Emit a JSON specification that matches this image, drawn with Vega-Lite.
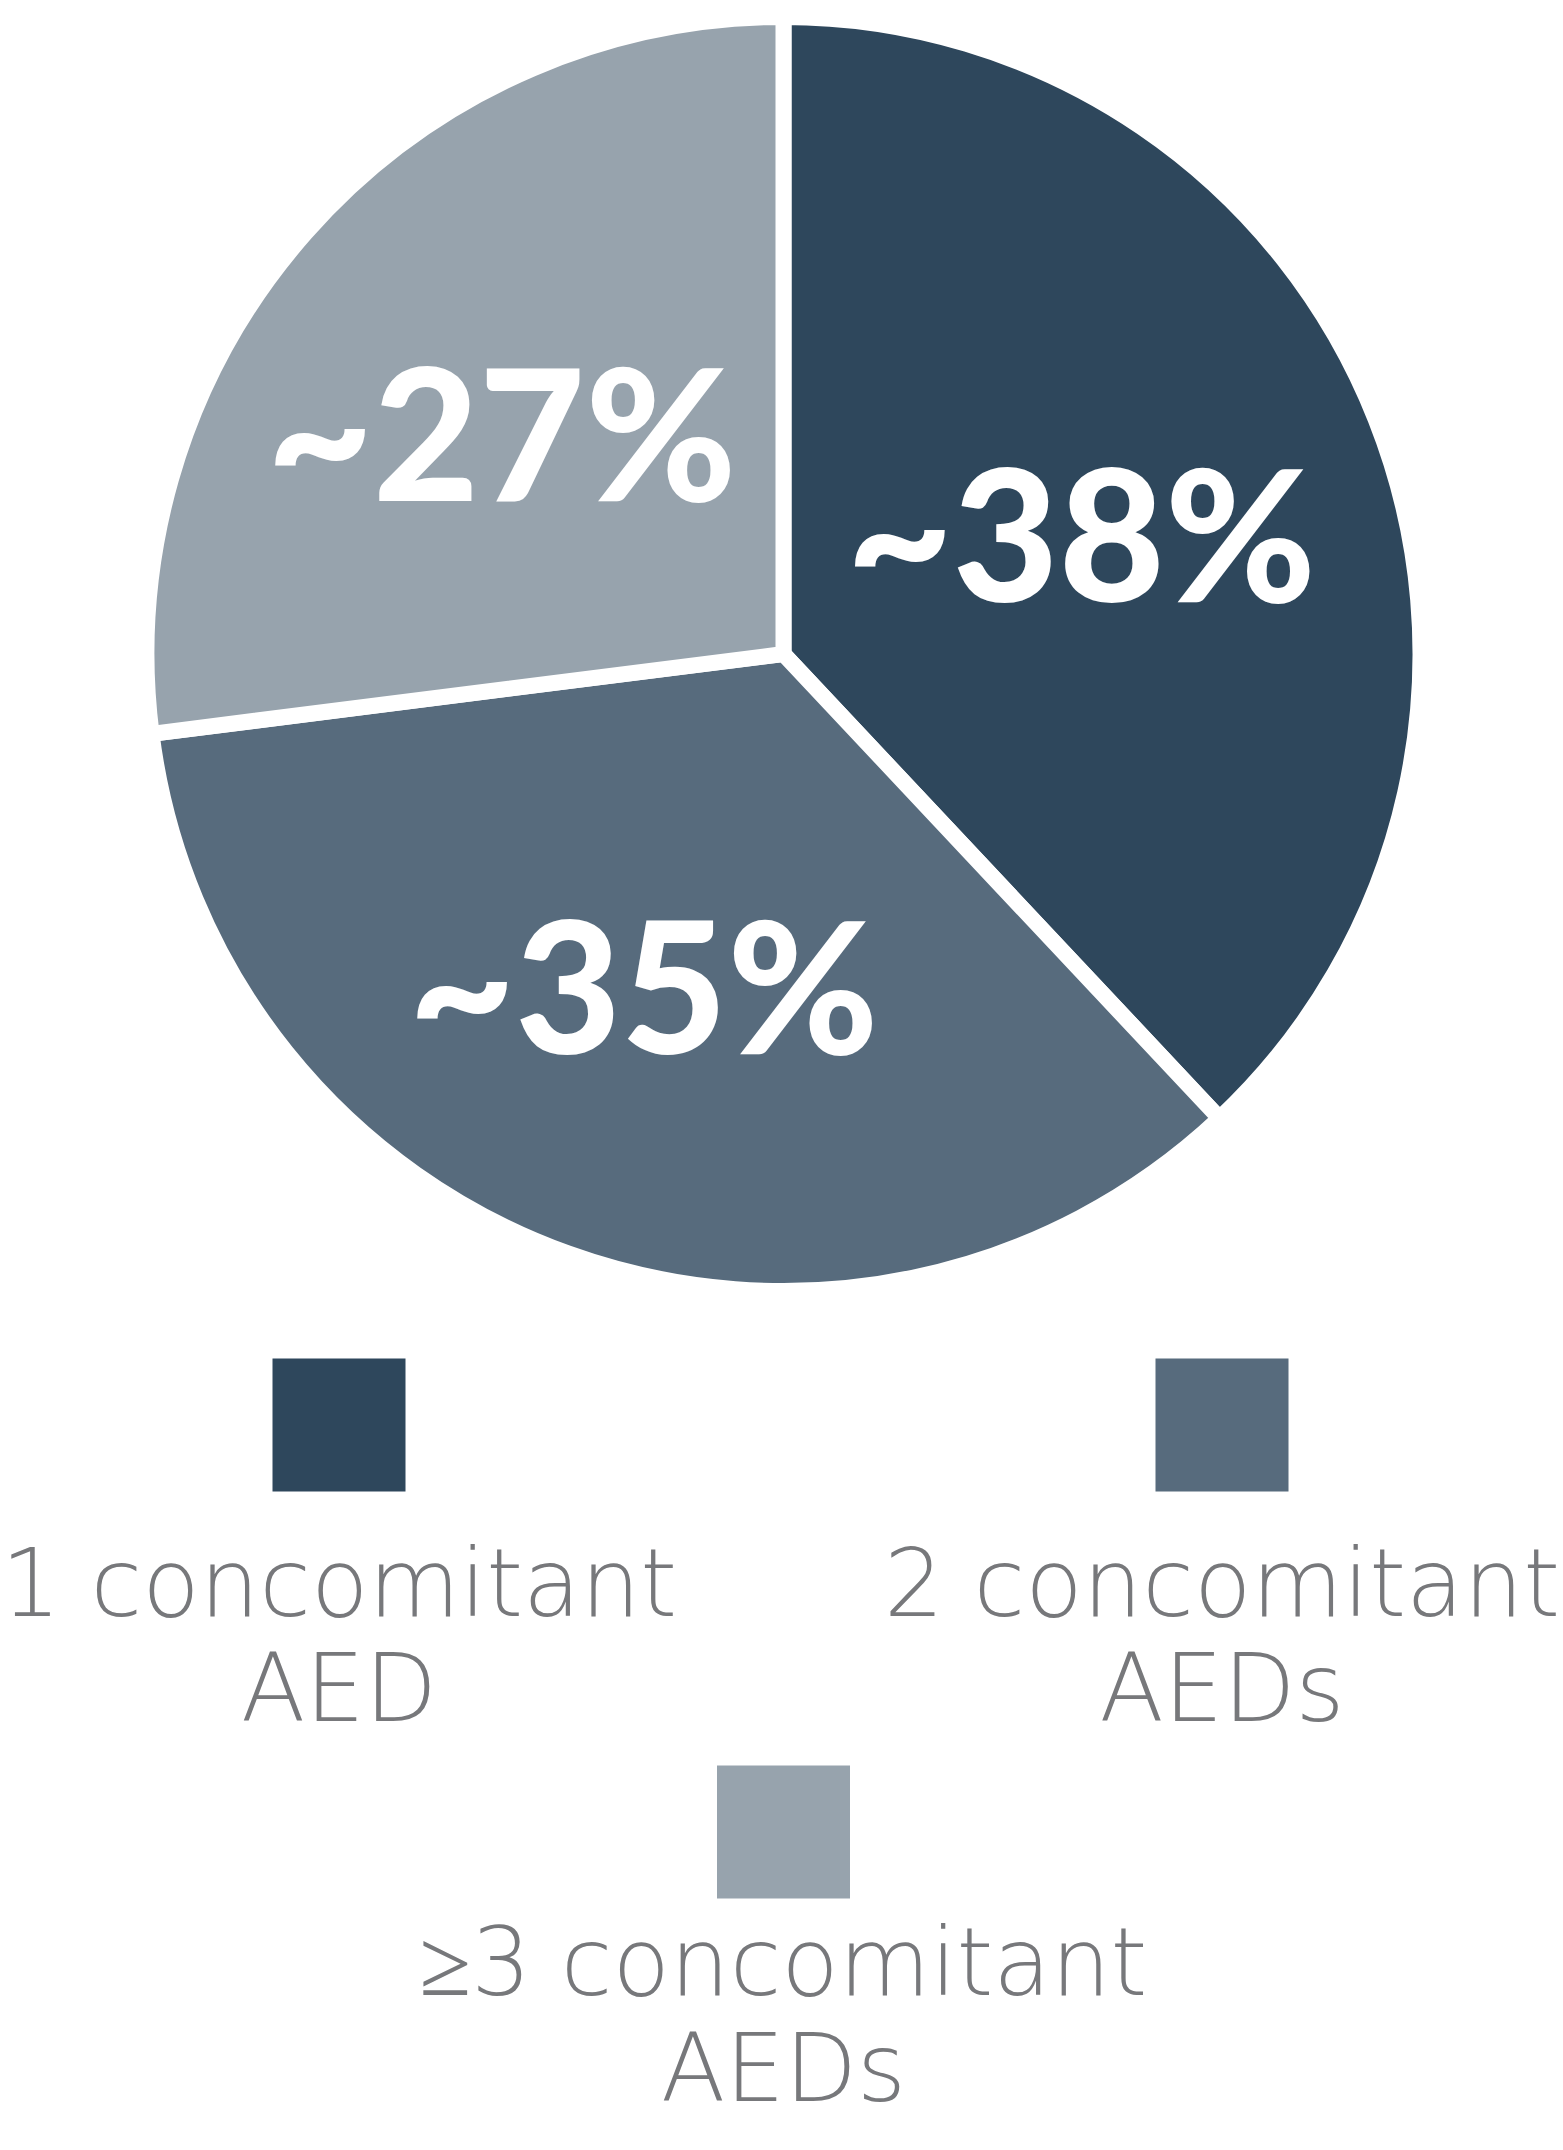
{
  "$schema": "https://vega.github.io/schema/vega-lite/v6.json",
  "padding": 0,
  "spacing": 0,
  "bounds": "flush",
  "background": "white",
  "config": {"view": {"stroke": null}},
  "datasets": {
    "aed": [
      {"category": "1 concomitant AED", "share": 38, "label": "~38%", "legend": "1 concomitant\nAED"},
      {"category": "2 concomitant AEDs", "share": 35, "label": "~35%", "legend": "2 concomitant\nAEDs"},
      {"category": "≥3 concomitant AEDs", "share": 27, "label": "~27%", "legend": "≥3 concomitant\nAEDs"}
    ]
  },
  "vconcat": [
    {
      "width": 1563,
      "height": 1308,
      "data": {"name": "aed"},
      "encoding": {
        "theta": {"field": "share", "type": "quantitative", "stack": true},
        "order": {"field": "share", "type": "quantitative", "sort": "descending"}
      },
      "layer": [
        {
          "mark": {"type": "arc", "outerRadius": 637, "stroke": "white", "strokeWidth": 16, "clip": true},
          "encoding": {
            "color": {
              "field": "category",
              "type": "nominal",
              "scale": {
                "domain": ["1 concomitant AED", "2 concomitant AEDs", "≥3 concomitant AEDs"],
                "range": ["#2e475c", "#576b7d", "#97a3ad"]
              },
              "legend": null
            }
          }
        },
        {
          "mark": {
            "type": "text",
            "radius": 345,
            "dx": -23,
            "dy": 20,
            "font": "Lato",
            "fontWeight": 900,
            "fontSize": 183,
            "fill": "white",
            "align": "center",
            "baseline": "middle"
          },
          "encoding": {"text": {"field": "label"}}
        }
      ]
    },
    {
      "width": 1563,
      "height": 234,
      "data": {"name": "aed"},
      "transform": [{"filter": {"field": "category", "oneOf": ["1 concomitant AED", "2 concomitant AEDs"]}}],
      "encoding": {
        "x": {
          "field": "category",
          "type": "nominal",
          "scale": {"type": "point", "domain": ["1 concomitant AED", "2 concomitant AEDs"], "range": [337, 1220], "padding": 0},
          "axis": null
        }
      },
      "layer": [
        {
          "mark": {"type": "square", "size": 17689, "opacity": 1},
          "encoding": {
            "color": {
              "field": "category",
              "type": "nominal",
              "scale": {
                "domain": ["1 concomitant AED", "2 concomitant AEDs", "≥3 concomitant AEDs"],
                "range": ["#2e475c", "#576b7d", "#97a3ad"]
              },
              "legend": null
            }
          }
        },
        {
          "mark": {
            "type": "text",
            "dy": 191,
            "align": "center",
            "baseline": "alphabetic",
            "lineBreak": "\n",
            "lineHeight": 105,
            "font": "DejaVu Sans",
            "fontWeight": 300,
            "fontSize": 94,
            "fill": "#77787b"
          },
          "encoding": {"text": {"field": "legend"}}
        }
      ]
    },
    {
      "width": 1563,
      "height": 580,
      "data": {"name": "aed"},
      "transform": [{"filter": {"field": "category", "equal": "≥3 concomitant AEDs"}}],
      "layer": [
        {
          "mark": {"type": "square", "size": 17689, "opacity": 1},
          "encoding": {
            "color": {
              "field": "category",
              "type": "nominal",
              "scale": {
                "domain": ["1 concomitant AED", "2 concomitant AEDs", "≥3 concomitant AEDs"],
                "range": ["#2e475c", "#576b7d", "#97a3ad"]
              },
              "legend": null
            }
          }
        },
        {
          "mark": {
            "type": "text",
            "dy": 163,
            "align": "center",
            "baseline": "alphabetic",
            "lineBreak": "\n",
            "lineHeight": 106,
            "font": "DejaVu Sans",
            "fontWeight": 300,
            "fontSize": 94,
            "fill": "#77787b"
          },
          "encoding": {"text": {"field": "legend"}}
        }
      ]
    }
  ]
}
